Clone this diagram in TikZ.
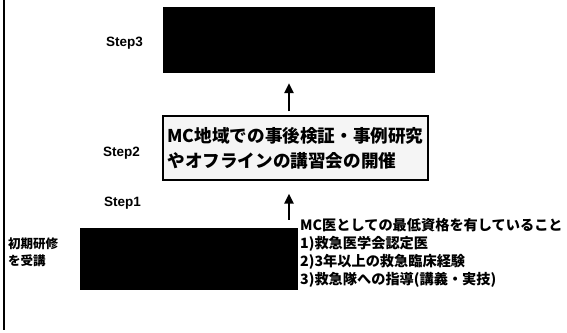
\documentclass[tikz,border=0pt]{standalone}
\usepackage{fontspec}
\setmainfont{Liberation Sans}
\newfontfamily\jp{Noto Sans CJK JP}
\usetikzlibrary{arrows.meta,calc}
\tikzset{
  darkbox/.style={draw=black,fill=black,rectangle,inner sep=0pt},
  lightbox/.style={draw=black,line width=1.2pt,fill=gray!8,rectangle,inner sep=0pt,align=left,
    font=\jp\bfseries\fontsize{17.6}{25}\selectfont},
  steplabel/.style={anchor=west,inner sep=0pt,font=\bfseries\fontsize{13.5}{16}\selectfont},
  jptext/.style={anchor=west,inner sep=0pt,align=left,font=\jp\bfseries\fontsize{14.2}{18}\selectfont},
  uparrow/.style={line width=2.8pt,-{Triangle[length=10pt,width=9pt]}}
}
\begin{document}
\begin{tikzpicture}[x=1pt,y=-1pt]
\useasboundingbox (0,0) rectangle (567,332);
% left rule
\draw[line width=2pt] (4,0) -- (4,330);
% boxes
\node[darkbox,minimum width=271pt,minimum height=65pt] (s3box) at (298.5,39.5) {};
\node[lightbox,minimum width=265pt,minimum height=64pt] (s2box) at (295.5,148) {MC地域での事後検証・事例研究\\やオフラインの講習会の開催};
\node[darkbox,minimum width=217pt,minimum height=61pt] (s1box) at (188.5,258.5) {};
% step labels
\node[steplabel] (l3) at (106,43) {Step3};
\node[steplabel] (l2) at (103,153) {Step2};
\node[steplabel] (l1) at (104,203) {Step1};
% side texts
\node[jptext,font=\jp\bfseries\fontsize{12.5}{17}\selectfont] (pre) at (8,252.5) {初期研修\\を受講};
\node[jptext] (req) at (300,253) {MC医としての最低資格を有していること\\1)救急医学会認定医\\2)3年以上の救急臨床経験\\3)救急隊への指導(講義・実技)};
% arrows
\coordinate (ax) at (289,0);
\draw[uparrow] ([yshift=8pt]s1box.north -| ax) -- ([yshift=-13pt]s2box.south -| ax);
\draw[uparrow] ([yshift=4pt]s2box.north -| ax) -- ([yshift=-11pt]s3box.south -| ax);
\end{tikzpicture}
\end{document}
